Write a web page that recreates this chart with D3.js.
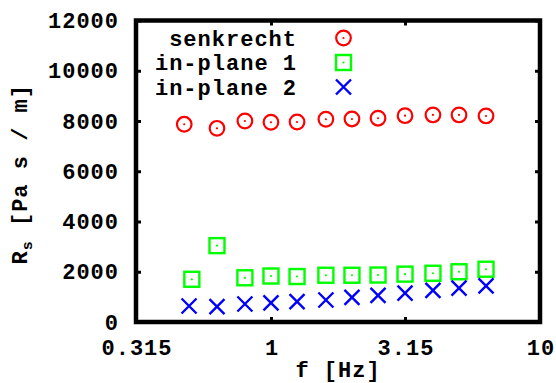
<!DOCTYPE html>
<html>
<head>
<meta charset="utf-8">
<script src="https://cdn.jsdelivr.net/npm/d3@7"></script>
<style>
  html, body { margin: 0; padding: 0; background: #fff; }
  svg text { font-family: "Liberation Mono", "DejaVu Sans Mono", monospace; font-weight: bold; fill: #000; }
</style>
</head>
<body>
<svg id="chart" width="556" height="383"></svg>
<script>
// Flow resistivity R_s against frequency, three sample orientations
const fSenkrecht = [0.476, 0.63, 0.8, 1, 1.25, 1.6, 2, 2.5, 3.15, 4, 5, 6.3];
const rSenkrecht = [7870, 7710, 8000, 7950, 7960, 8070, 8080, 8110, 8210, 8240, 8240, 8200];

const fInPlane1 = [0.508, 0.63, 0.8, 1, 1.25, 1.6, 2, 2.5, 3.15, 4, 5, 6.3];
const rInPlane1 = [1700, 3040, 1760, 1830, 1810, 1860, 1860, 1870, 1905, 1940, 2000, 2100];

const fInPlane2 = [0.496, 0.63, 0.8, 1, 1.25, 1.6, 2, 2.5, 3.15, 4, 5, 6.3];
const rInPlane2 = [637, 610, 716, 760, 808, 876, 983, 1060, 1150, 1260, 1350, 1440];

const seriesNames = ["senkrecht", "in-plane 1", "in-plane 2"];
const xTicks = [0.315, 1, 3.15, 10];
const xTickLabels = ["0.315", "1", "3.15", "10"];
const yTicks = [0, 2000, 4000, 6000, 8000, 10000, 12000];

const svg = d3.select("#chart");
const plotL = 136, plotR = 540, plotT = 20.5, plotB = 322;
const fs = 22, ls = 1;

const x = d3.scaleLog().domain([0.315, 10]).range([plotL, plotR]);
const y = d3.scaleLinear().domain([0, 12000]).range([plotB, plotT]);

// axes: inward ticks, labels only on bottom and left
const styleAxis = g => {
  g.select(".domain").remove();
  g.selectAll(".tick line").attr("stroke", "#000").attr("stroke-width", 3);
  g.selectAll(".tick text").style("font-size", fs + "px").attr("letter-spacing", ls + "px");
};

svg.append("g").attr("transform", `translate(0,${plotB})`)
  .call(d3.axisBottom(x).tickValues(xTicks).tickSize(-5).tickPadding(17)
    .tickFormat((d, i) => xTickLabels[i]))
  .call(styleAxis)
  .selectAll(".tick text").attr("dx", ls / 2);
svg.append("g").attr("transform", `translate(0,${plotT})`)
  .call(d3.axisTop(x).tickValues(xTicks).tickSize(-5).tickFormat(""))
  .call(styleAxis);
svg.append("g").attr("transform", `translate(${plotL},0)`)
  .call(d3.axisLeft(y).tickValues(yTicks).tickSize(-5).tickPadding(17).tickFormat(d3.format("d")))
  .call(styleAxis);
svg.append("g").attr("transform", `translate(${plotR},0)`)
  .call(d3.axisRight(y).tickValues(yTicks).tickSize(-5).tickFormat(""))
  .call(styleAxis);

// frame
svg.append("rect")
  .attr("x", plotL).attr("y", plotT)
  .attr("width", plotR - plotL).attr("height", plotB - plotT)
  .attr("fill", "none").attr("stroke", "#000").attr("stroke-width", 4.5);

// axis titles
svg.append("text")
  .attr("x", (plotL + plotR) / 2).attr("y", 377)
  .attr("text-anchor", "middle").style("font-size", fs + "px").attr("letter-spacing", ls + "px")
  .text("f [Hz]");

const yl = svg.append("text")
  .attr("transform", `translate(27,${(plotT + plotB) / 2 + 3}) rotate(-90)`)
  .attr("text-anchor", "middle").style("font-size", fs + "px").attr("letter-spacing", ls + "px");
yl.append("tspan").text("R");
yl.append("tspan").attr("dy", 5).style("font-size", "15px").text("s");
yl.append("tspan").attr("dy", -5).text(" [Pa s / m]");

// marker drawers
function circleMark(g, cx, cy) {
  g.append("circle").attr("cx", cx).attr("cy", cy).attr("r", 7.3)
    .attr("fill", "none").attr("stroke", "#ff0000").attr("stroke-width", 2.2);
  g.append("circle").attr("cx", cx).attr("cy", cy).attr("r", 1.1).attr("fill", "#ff0000");
}
function squareMark(g, cx, cy) {
  g.append("rect").attr("x", cx - 7.5).attr("y", cy - 7.5).attr("width", 15).attr("height", 15)
    .attr("fill", "none").attr("stroke", "#00ff00").attr("stroke-width", 2.4);
  g.append("circle").attr("cx", cx).attr("cy", cy).attr("r", 1.1).attr("fill", "#00ff00");
}
function crossMark(g, cx, cy) {
  const s = 7.5;
  g.append("path")
    .attr("d", `M${cx - s},${cy - s}L${cx + s},${cy + s}M${cx - s},${cy + s}L${cx + s},${cy - s}`)
    .attr("stroke", "#0000ff").attr("stroke-width", 2.4).attr("fill", "none");
}

const series = [
  { f: fSenkrecht, r: rSenkrecht, draw: circleMark },
  { f: fInPlane1, r: rInPlane1, draw: squareMark },
  { f: fInPlane2, r: rInPlane2, draw: crossMark }
];

const marks = svg.append("g");
series.forEach(s => {
  s.f.forEach((f, i) => s.draw(marks, x(f), y(s.r[i])));
});

// legend
const legend = svg.append("g");
seriesNames.forEach((name, i) => {
  const cy = 38 + i * 24.5;
  legend.append("text")
    .attr("x", 296 + ls).attr("y", cy).attr("dy", "0.35em")
    .attr("text-anchor", "end").style("font-size", fs + "px").attr("letter-spacing", ls + "px")
    .text(name);
  series[i].draw(legend, 343.5, cy);
});
</script>
</body>
</html>
